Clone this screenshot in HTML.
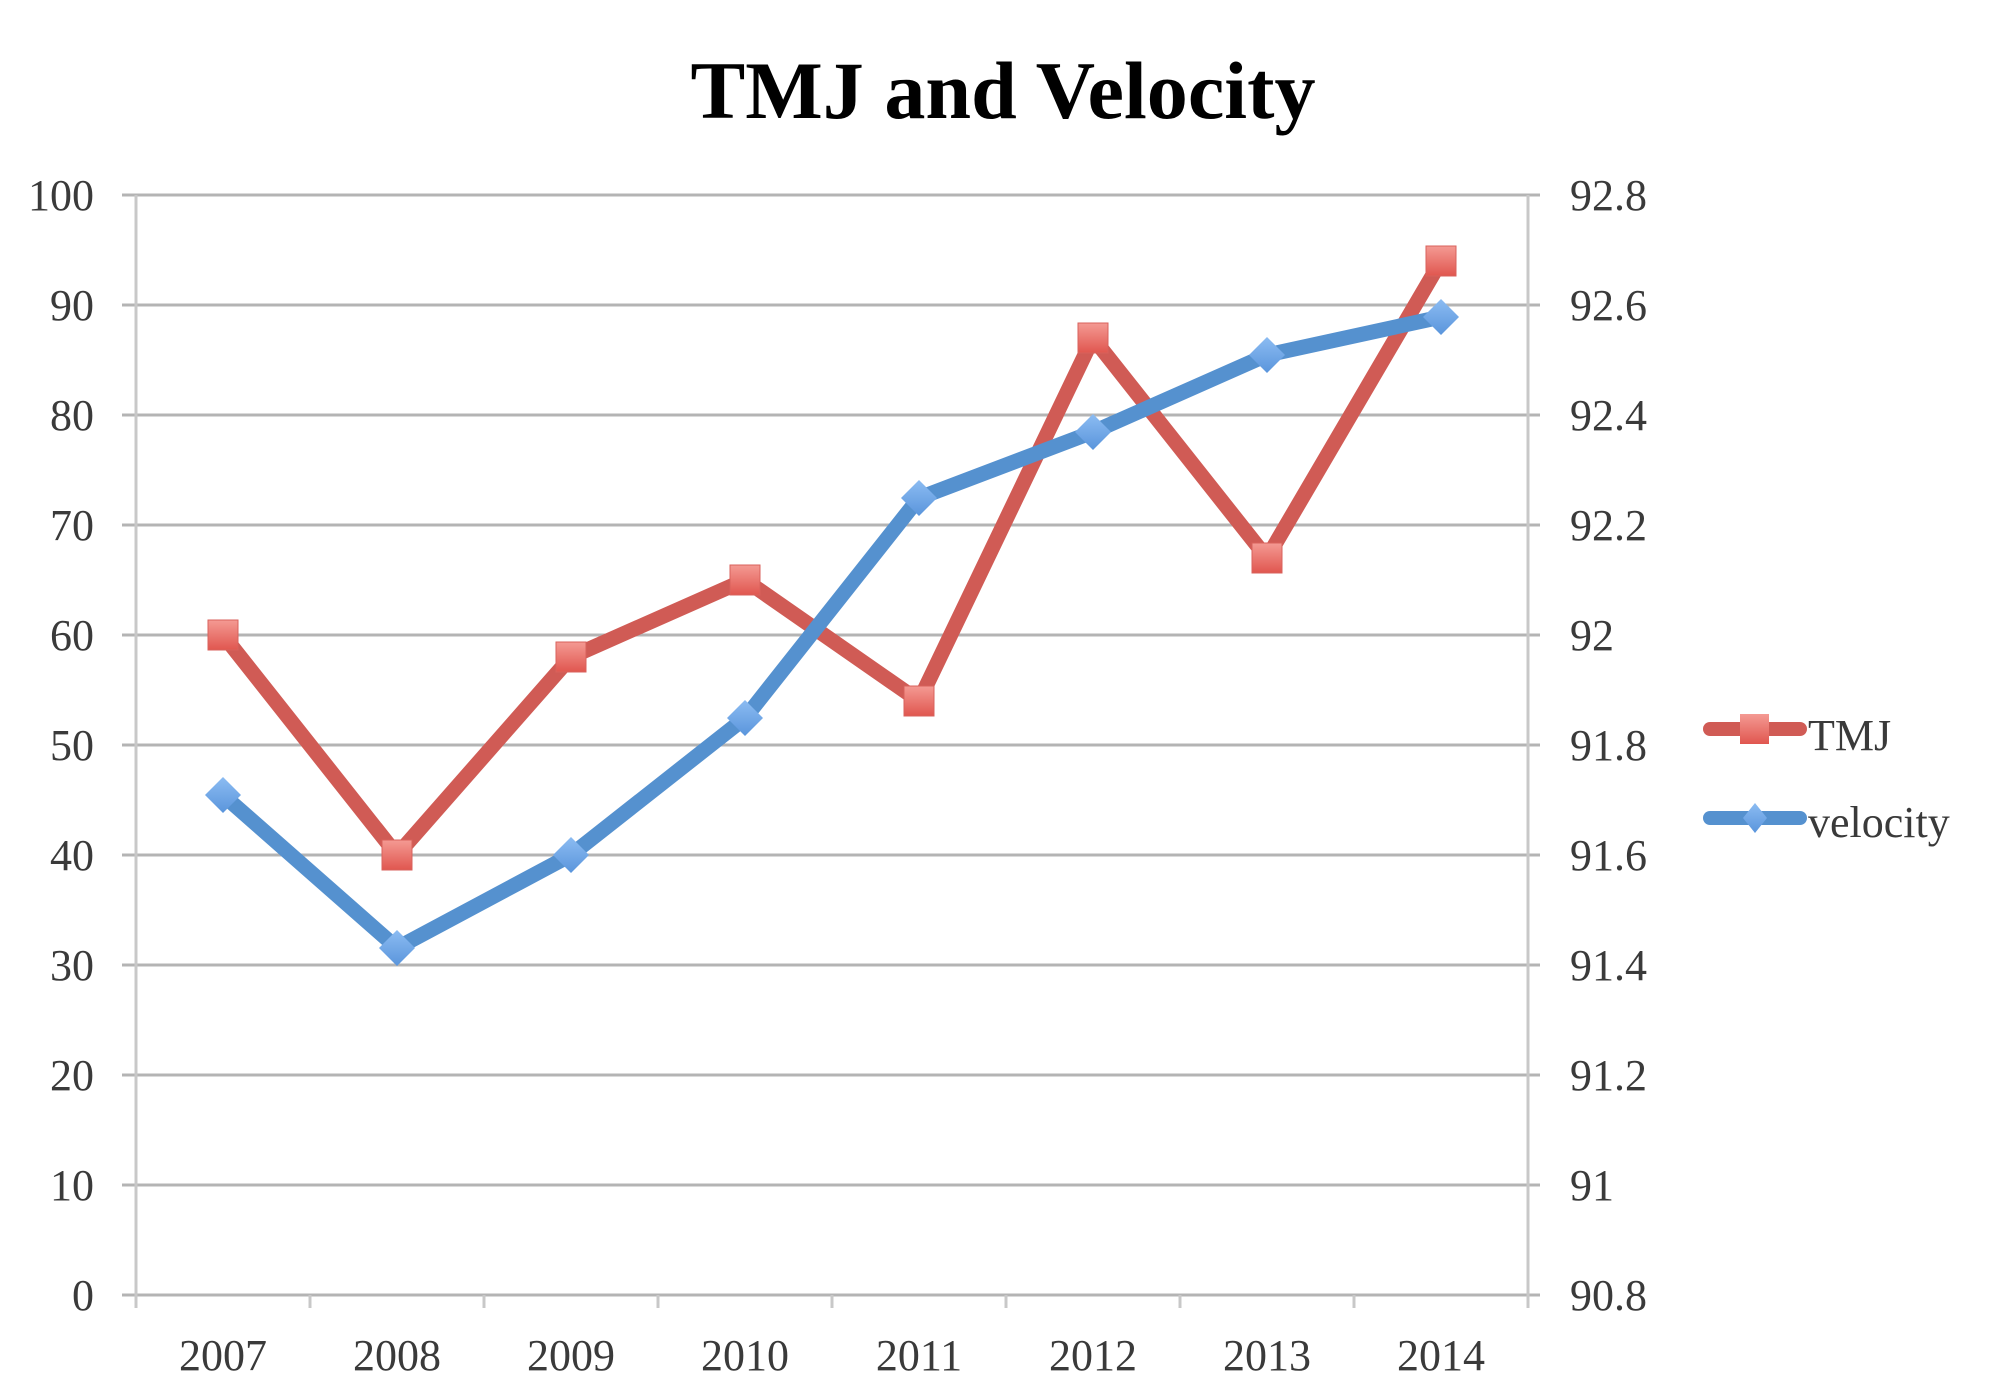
<!DOCTYPE html>
<html><head><meta charset="utf-8"><style>body{margin:0;background:#fff}svg{display:block}</style></head>
<body>
<svg width="2010" height="1398" viewBox="0 0 2010 1398" xmlns="http://www.w3.org/2000/svg">
<defs>
<linearGradient id="rg" x1="0" y1="0" x2="0" y2="1"><stop offset="0" stop-color="#f49a93"/><stop offset="1" stop-color="#e0564f"/></linearGradient>
<linearGradient id="bg" x1="0" y1="0" x2="0" y2="1"><stop offset="0" stop-color="#8cbcf2"/><stop offset="1" stop-color="#5a95dc"/></linearGradient>
</defs>
<text x="1003" y="118" text-anchor="middle" font-family="Liberation Serif, serif" font-weight="bold" font-size="82" textLength="625" lengthAdjust="spacingAndGlyphs" fill="#000">TMJ and Velocity</text>
<g stroke="#b4b4b4" stroke-width="3">
<line x1="122" y1="195" x2="1540" y2="195"/><line x1="122" y1="305" x2="1540" y2="305"/><line x1="122" y1="415" x2="1540" y2="415"/><line x1="122" y1="525" x2="1540" y2="525"/><line x1="122" y1="635" x2="1540" y2="635"/><line x1="122" y1="745" x2="1540" y2="745"/><line x1="122" y1="855" x2="1540" y2="855"/><line x1="122" y1="965" x2="1540" y2="965"/><line x1="122" y1="1075" x2="1540" y2="1075"/><line x1="122" y1="1185" x2="1540" y2="1185"/><line x1="122" y1="1295" x2="1540" y2="1295"/>
</g>
<g stroke="#c8c8c8" stroke-width="3">
<line x1="136" y1="195" x2="136" y2="1308"/><line x1="1528" y1="195" x2="1528" y2="1308"/>
<line x1="310" y1="1295" x2="310" y2="1308"/><line x1="484" y1="1295" x2="484" y2="1308"/><line x1="658" y1="1295" x2="658" y2="1308"/><line x1="832" y1="1295" x2="832" y2="1308"/><line x1="1006" y1="1295" x2="1006" y2="1308"/><line x1="1180" y1="1295" x2="1180" y2="1308"/><line x1="1354" y1="1295" x2="1354" y2="1308"/>
</g>
<g font-family="Liberation Serif, serif" font-size="44" fill="#3a3a3a" text-anchor="end">
<text x="94" y="210">100</text><text x="94" y="320">90</text><text x="94" y="430">80</text><text x="94" y="540">70</text><text x="94" y="650">60</text><text x="94" y="760">50</text><text x="94" y="870">40</text><text x="94" y="980">30</text><text x="94" y="1090">20</text><text x="94" y="1200">10</text><text x="94" y="1310">0</text>
</g>
<g font-family="Liberation Serif, serif" font-size="44" fill="#3a3a3a">
<text x="1570" y="210">92.8</text><text x="1570" y="320">92.6</text><text x="1570" y="430">92.4</text><text x="1570" y="540">92.2</text><text x="1570" y="650">92</text><text x="1570" y="760">91.8</text><text x="1570" y="870">91.6</text><text x="1570" y="980">91.4</text><text x="1570" y="1090">91.2</text><text x="1570" y="1200">91</text><text x="1570" y="1310">90.8</text>
</g>
<g font-family="Liberation Serif, serif" font-size="44" fill="#3a3a3a" text-anchor="middle">
<text x="223" y="1370">2007</text><text x="397" y="1370">2008</text><text x="571" y="1370">2009</text><text x="745" y="1370">2010</text><text x="919" y="1370">2011</text><text x="1093" y="1370">2012</text><text x="1267" y="1370">2013</text><text x="1441" y="1370">2014</text>
</g>
<polyline fill="none" stroke="#d05b55" stroke-width="15" stroke-linejoin="round" points="223,635 397,855 571,657 745,580 919,701 1093,338 1267,558 1441,261"/>
<polyline fill="none" stroke="#5591cf" stroke-width="15" stroke-linejoin="round" points="223,795 397,948 571,855 745,718 919,498 1093,432 1267,355 1441,317"/>
<g fill="url(#rg)" stroke="#d8625c" stroke-width="1">
<rect x="208" y="620" width="30" height="30"/><rect x="382" y="840" width="30" height="30"/><rect x="556" y="642" width="30" height="30"/><rect x="730" y="565" width="30" height="30"/><rect x="904" y="686" width="30" height="30"/><rect x="1078" y="323" width="30" height="30"/><rect x="1252" y="543" width="30" height="30"/><rect x="1426" y="246" width="30" height="30"/>
</g>
<g fill="url(#bg)">
<path d="M223,777 l18,18 l-18,18 l-18,-18z"/><path d="M397,930 l18,18 l-18,18 l-18,-18z"/><path d="M571,837 l18,18 l-18,18 l-18,-18z"/><path d="M745,700 l18,18 l-18,18 l-18,-18z"/><path d="M919,480 l18,18 l-18,18 l-18,-18z"/><path d="M1093,414 l18,18 l-18,18 l-18,-18z"/><path d="M1267,337 l18,18 l-18,18 l-18,-18z"/><path d="M1441,299 l18,18 l-18,18 l-18,-18z"/>
</g>
<line x1="1710" y1="729" x2="1800" y2="729" stroke="#d05b55" stroke-width="14" stroke-linecap="round"/>
<rect x="1740" y="714" width="29" height="30" fill="url(#rg)"/>
<line x1="1710" y1="818" x2="1800" y2="818" stroke="#5591cf" stroke-width="14" stroke-linecap="round"/>
<path d="M1755,803 l12,15 l-12,15 l-12,-15z" fill="url(#bg)"/>
<g font-family="Liberation Serif, serif" font-size="44" fill="#3a3a3a">
<text x="1808" y="750">TMJ</text><text x="1808" y="837">velocity</text>
</g>
</svg>
</body></html>
